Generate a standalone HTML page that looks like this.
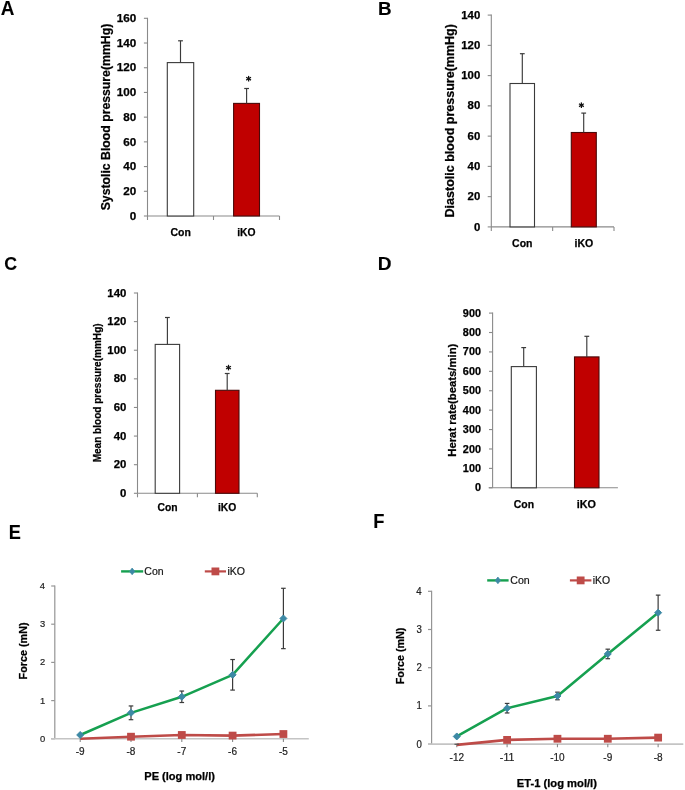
<!DOCTYPE html>
<html><head><meta charset="utf-8"><style>
html,body{margin:0;padding:0;background:#fff;}
body{width:685px;height:790px;overflow:hidden;}
svg{display:block;will-change:transform;filter:blur(0.3px);font-family:"Liberation Sans",sans-serif;}
text{stroke-linejoin:round;}
text[font-weight=bold]{stroke:#000;stroke-width:0.25px;}
text[font-weight=normal]{stroke:#222;stroke-width:0.2px;}
text.L{stroke-width:0.1px;}
</style></head><body>
<svg width="685" height="790" viewBox="0 0 685 790">
<rect width="685" height="790" fill="#fff"/>
<text x="0.83" y="14.6" font-size="19.69" font-weight="bold" textLength="13.67" lengthAdjust="spacingAndGlyphs" fill="#000" class="L">A</text>
<text x="377.94" y="14.7" font-size="19.19" font-weight="bold" textLength="13.62" lengthAdjust="spacingAndGlyphs" fill="#000" class="L">B</text>
<text x="4.27" y="270.1" font-size="19.15" font-weight="bold" textLength="12.81" lengthAdjust="spacingAndGlyphs" fill="#000" class="L">C</text>
<text x="377.72" y="269.9" font-size="19.11" font-weight="bold" textLength="13.78" lengthAdjust="spacingAndGlyphs" fill="#000" class="L">D</text>
<text x="8.68" y="538.8" font-size="20.06" font-weight="bold" textLength="12.13" lengthAdjust="spacingAndGlyphs" fill="#000" class="L">E</text>
<text x="373.27" y="527.7" font-size="19.84" font-weight="bold" textLength="11.2" lengthAdjust="spacingAndGlyphs" fill="#000" class="L">F</text>
<line x1="147.5" y1="17.8" x2="147.5" y2="216" stroke="#8a8a8a" stroke-width="1.1"/>
<line x1="143.9" y1="216" x2="147.5" y2="216" stroke="#8a8a8a" stroke-width="1.1"/>
<text x="129.87" y="219.69" font-size="10.73" font-weight="bold" textLength="6.51" lengthAdjust="spacingAndGlyphs" fill="#000">0</text>
<line x1="143.9" y1="191.29" x2="147.5" y2="191.29" stroke="#8a8a8a" stroke-width="1.1"/>
<text x="123.37" y="194.98" font-size="10.73" font-weight="bold" textLength="13.01" lengthAdjust="spacingAndGlyphs" fill="#000">20</text>
<line x1="143.9" y1="166.57" x2="147.5" y2="166.57" stroke="#8a8a8a" stroke-width="1.1"/>
<text x="123.37" y="170.27" font-size="10.73" font-weight="bold" textLength="13.01" lengthAdjust="spacingAndGlyphs" fill="#000">40</text>
<line x1="143.9" y1="141.86" x2="147.5" y2="141.86" stroke="#8a8a8a" stroke-width="1.1"/>
<text x="123.37" y="145.56" font-size="10.73" font-weight="bold" textLength="13.01" lengthAdjust="spacingAndGlyphs" fill="#000">60</text>
<line x1="143.9" y1="117.15" x2="147.5" y2="117.15" stroke="#8a8a8a" stroke-width="1.1"/>
<text x="123.37" y="120.84" font-size="10.73" font-weight="bold" textLength="13.01" lengthAdjust="spacingAndGlyphs" fill="#000">80</text>
<line x1="143.9" y1="92.44" x2="147.5" y2="92.44" stroke="#8a8a8a" stroke-width="1.1"/>
<text x="116.86" y="96.13" font-size="10.73" font-weight="bold" textLength="19.52" lengthAdjust="spacingAndGlyphs" fill="#000">100</text>
<line x1="143.9" y1="67.73" x2="147.5" y2="67.73" stroke="#8a8a8a" stroke-width="1.1"/>
<text x="116.86" y="71.42" font-size="10.73" font-weight="bold" textLength="19.52" lengthAdjust="spacingAndGlyphs" fill="#000">120</text>
<line x1="143.9" y1="43.01" x2="147.5" y2="43.01" stroke="#8a8a8a" stroke-width="1.1"/>
<text x="116.86" y="46.71" font-size="10.73" font-weight="bold" textLength="19.52" lengthAdjust="spacingAndGlyphs" fill="#000">140</text>
<line x1="143.9" y1="18.3" x2="147.5" y2="18.3" stroke="#8a8a8a" stroke-width="1.1"/>
<text x="116.86" y="21.99" font-size="10.73" font-weight="bold" textLength="19.52" lengthAdjust="spacingAndGlyphs" fill="#000">160</text>
<line x1="147.5" y1="216" x2="279.5" y2="216" stroke="#8a8a8a" stroke-width="1.1"/>
<line x1="147.5" y1="216" x2="147.5" y2="220" stroke="#8a8a8a" stroke-width="1.1"/>
<line x1="213.5" y1="216" x2="213.5" y2="220" stroke="#8a8a8a" stroke-width="1.1"/>
<line x1="279.5" y1="216" x2="279.5" y2="220" stroke="#8a8a8a" stroke-width="1.1"/>
<rect x="167.3" y="62.6" width="26.4" height="153.4" fill="#fff" stroke="#3a3a3a" stroke-width="1.1"/>
<line x1="180.5" y1="62.6" x2="180.5" y2="40.8" stroke="#3a3a3a" stroke-width="1.15"/>
<line x1="178.1" y1="40.8" x2="182.9" y2="40.8" stroke="#3a3a3a" stroke-width="1.2"/>
<rect x="233.6" y="103.4" width="25.9" height="112.6" fill="#c00000" stroke="#4a0a0a" stroke-width="1.1"/>
<line x1="246.6" y1="103.4" x2="246.6" y2="88.5" stroke="#3a3a3a" stroke-width="1.15"/>
<line x1="244.2" y1="88.5" x2="249" y2="88.5" stroke="#3a3a3a" stroke-width="1.2"/>
<line x1="248.6" y1="75.9" x2="248.6" y2="81.5" stroke="#111" stroke-width="1.25"/>
<line x1="246.18" y1="77.3" x2="251.02" y2="80.1" stroke="#111" stroke-width="1.25"/>
<line x1="246.18" y1="80.1" x2="251.02" y2="77.3" stroke="#111" stroke-width="1.25"/>
<text x="170.47" y="236.4" font-size="10.86" font-weight="bold" textLength="20.38" lengthAdjust="spacingAndGlyphs" fill="#000">Con</text>
<text x="237.18" y="236.4" font-size="10.86" font-weight="bold" textLength="18.35" lengthAdjust="spacingAndGlyphs" fill="#000">iKO</text>
<text transform="translate(110,0) rotate(-90)" x="-210.35" y="0" font-size="12.57" font-weight="bold" textLength="186.56" lengthAdjust="spacingAndGlyphs" fill="#000">Systolic Blood pressure(mmHg)</text>
<line x1="491.3" y1="14.6" x2="491.3" y2="226.9" stroke="#8a8a8a" stroke-width="1.1"/>
<line x1="487.7" y1="226.9" x2="491.3" y2="226.9" stroke="#8a8a8a" stroke-width="1.1"/>
<text x="473.93" y="230.5" font-size="10.45" font-weight="bold" textLength="6.34" lengthAdjust="spacingAndGlyphs" fill="#000">0</text>
<line x1="487.7" y1="196.64" x2="491.3" y2="196.64" stroke="#8a8a8a" stroke-width="1.1"/>
<text x="467.6" y="200.24" font-size="10.45" font-weight="bold" textLength="12.67" lengthAdjust="spacingAndGlyphs" fill="#000">20</text>
<line x1="487.7" y1="166.39" x2="491.3" y2="166.39" stroke="#8a8a8a" stroke-width="1.1"/>
<text x="467.6" y="169.98" font-size="10.45" font-weight="bold" textLength="12.67" lengthAdjust="spacingAndGlyphs" fill="#000">40</text>
<line x1="487.7" y1="136.13" x2="491.3" y2="136.13" stroke="#8a8a8a" stroke-width="1.1"/>
<text x="467.6" y="139.72" font-size="10.45" font-weight="bold" textLength="12.67" lengthAdjust="spacingAndGlyphs" fill="#000">60</text>
<line x1="487.7" y1="105.87" x2="491.3" y2="105.87" stroke="#8a8a8a" stroke-width="1.1"/>
<text x="467.6" y="109.47" font-size="10.45" font-weight="bold" textLength="12.67" lengthAdjust="spacingAndGlyphs" fill="#000">80</text>
<line x1="487.7" y1="75.61" x2="491.3" y2="75.61" stroke="#8a8a8a" stroke-width="1.1"/>
<text x="461.26" y="79.21" font-size="10.45" font-weight="bold" textLength="19.01" lengthAdjust="spacingAndGlyphs" fill="#000">100</text>
<line x1="487.7" y1="45.36" x2="491.3" y2="45.36" stroke="#8a8a8a" stroke-width="1.1"/>
<text x="461.26" y="48.95" font-size="10.45" font-weight="bold" textLength="19.01" lengthAdjust="spacingAndGlyphs" fill="#000">120</text>
<line x1="487.7" y1="15.1" x2="491.3" y2="15.1" stroke="#8a8a8a" stroke-width="1.1"/>
<text x="461.26" y="18.7" font-size="10.45" font-weight="bold" textLength="19.01" lengthAdjust="spacingAndGlyphs" fill="#000">140</text>
<line x1="491.3" y1="226.9" x2="614" y2="226.9" stroke="#8a8a8a" stroke-width="1.1"/>
<line x1="491.3" y1="226.9" x2="491.3" y2="230.9" stroke="#8a8a8a" stroke-width="1.1"/>
<line x1="552.65" y1="226.9" x2="552.65" y2="230.9" stroke="#8a8a8a" stroke-width="1.1"/>
<line x1="614" y1="226.9" x2="614" y2="230.9" stroke="#8a8a8a" stroke-width="1.1"/>
<rect x="510" y="83.5" width="24.5" height="143.4" fill="#fff" stroke="#3a3a3a" stroke-width="1.1"/>
<line x1="522.3" y1="83.5" x2="522.3" y2="53.7" stroke="#3a3a3a" stroke-width="1.15"/>
<line x1="519.9" y1="53.7" x2="524.7" y2="53.7" stroke="#3a3a3a" stroke-width="1.2"/>
<rect x="571.3" y="132.5" width="25" height="94.4" fill="#c00000" stroke="#4a0a0a" stroke-width="1.1"/>
<line x1="583.7" y1="132.5" x2="583.7" y2="113.1" stroke="#3a3a3a" stroke-width="1.15"/>
<line x1="581.3" y1="113.1" x2="586.1" y2="113.1" stroke="#3a3a3a" stroke-width="1.2"/>
<line x1="581.4" y1="102.4" x2="581.4" y2="108" stroke="#111" stroke-width="1.25"/>
<line x1="578.98" y1="103.8" x2="583.82" y2="106.6" stroke="#111" stroke-width="1.25"/>
<line x1="578.98" y1="106.6" x2="583.82" y2="103.8" stroke="#111" stroke-width="1.25"/>
<text x="512.07" y="246.7" font-size="10.86" font-weight="bold" textLength="20.38" lengthAdjust="spacingAndGlyphs" fill="#000">Con</text>
<text x="574.46" y="246.7" font-size="10.86" font-weight="bold" textLength="18.78" lengthAdjust="spacingAndGlyphs" fill="#000">iKO</text>
<text transform="translate(454.3,0) rotate(-90)" x="-217.44" y="0" font-size="13.29" font-weight="bold" textLength="193.36" lengthAdjust="spacingAndGlyphs" fill="#000">Diastolic blood pressure(mmHg)</text>
<line x1="137.5" y1="292.5" x2="137.5" y2="493.3" stroke="#8a8a8a" stroke-width="1.1"/>
<line x1="133.9" y1="493.3" x2="137.5" y2="493.3" stroke="#8a8a8a" stroke-width="1.1"/>
<text x="120.03" y="496.9" font-size="10.45" font-weight="bold" textLength="6.34" lengthAdjust="spacingAndGlyphs" fill="#000">0</text>
<line x1="133.9" y1="464.69" x2="137.5" y2="464.69" stroke="#8a8a8a" stroke-width="1.1"/>
<text x="113.7" y="468.28" font-size="10.45" font-weight="bold" textLength="12.67" lengthAdjust="spacingAndGlyphs" fill="#000">20</text>
<line x1="133.9" y1="436.07" x2="137.5" y2="436.07" stroke="#8a8a8a" stroke-width="1.1"/>
<text x="113.7" y="439.67" font-size="10.45" font-weight="bold" textLength="12.67" lengthAdjust="spacingAndGlyphs" fill="#000">40</text>
<line x1="133.9" y1="407.46" x2="137.5" y2="407.46" stroke="#8a8a8a" stroke-width="1.1"/>
<text x="113.7" y="411.05" font-size="10.45" font-weight="bold" textLength="12.67" lengthAdjust="spacingAndGlyphs" fill="#000">60</text>
<line x1="133.9" y1="378.84" x2="137.5" y2="378.84" stroke="#8a8a8a" stroke-width="1.1"/>
<text x="113.7" y="382.44" font-size="10.45" font-weight="bold" textLength="12.67" lengthAdjust="spacingAndGlyphs" fill="#000">80</text>
<line x1="133.9" y1="350.23" x2="137.5" y2="350.23" stroke="#8a8a8a" stroke-width="1.1"/>
<text x="107.36" y="353.82" font-size="10.45" font-weight="bold" textLength="19.01" lengthAdjust="spacingAndGlyphs" fill="#000">100</text>
<line x1="133.9" y1="321.61" x2="137.5" y2="321.61" stroke="#8a8a8a" stroke-width="1.1"/>
<text x="107.36" y="325.21" font-size="10.45" font-weight="bold" textLength="19.01" lengthAdjust="spacingAndGlyphs" fill="#000">120</text>
<line x1="133.9" y1="293" x2="137.5" y2="293" stroke="#8a8a8a" stroke-width="1.1"/>
<text x="107.36" y="296.6" font-size="10.45" font-weight="bold" textLength="19.01" lengthAdjust="spacingAndGlyphs" fill="#000">140</text>
<line x1="137.5" y1="493.3" x2="257.3" y2="493.3" stroke="#8a8a8a" stroke-width="1.1"/>
<line x1="137.5" y1="493.3" x2="137.5" y2="497.3" stroke="#8a8a8a" stroke-width="1.1"/>
<line x1="197.4" y1="493.3" x2="197.4" y2="497.3" stroke="#8a8a8a" stroke-width="1.1"/>
<line x1="257.3" y1="493.3" x2="257.3" y2="497.3" stroke="#8a8a8a" stroke-width="1.1"/>
<rect x="155.2" y="344.4" width="24.4" height="148.9" fill="#fff" stroke="#3a3a3a" stroke-width="1.1"/>
<line x1="167.4" y1="344.4" x2="167.4" y2="317.5" stroke="#3a3a3a" stroke-width="1.15"/>
<line x1="165" y1="317.5" x2="169.8" y2="317.5" stroke="#3a3a3a" stroke-width="1.2"/>
<rect x="215.5" y="390.3" width="23.5" height="103" fill="#c00000" stroke="#4a0a0a" stroke-width="1.1"/>
<line x1="227.2" y1="390.3" x2="227.2" y2="373.5" stroke="#3a3a3a" stroke-width="1.15"/>
<line x1="224.8" y1="373.5" x2="229.6" y2="373.5" stroke="#3a3a3a" stroke-width="1.2"/>
<line x1="228.5" y1="364.8" x2="228.5" y2="370.4" stroke="#111" stroke-width="1.25"/>
<line x1="226.08" y1="366.2" x2="230.92" y2="369" stroke="#111" stroke-width="1.25"/>
<line x1="226.08" y1="369" x2="230.92" y2="366.2" stroke="#111" stroke-width="1.25"/>
<text x="157.58" y="511.4" font-size="10.43" font-weight="bold" textLength="20.06" lengthAdjust="spacingAndGlyphs" fill="#000">Con</text>
<text x="217.88" y="511.4" font-size="10.43" font-weight="bold" textLength="18.35" lengthAdjust="spacingAndGlyphs" fill="#000">iKO</text>
<text transform="translate(100.9,0) rotate(-90)" x="-462.37" y="0" font-size="11" font-weight="bold" textLength="138.97" lengthAdjust="spacingAndGlyphs" fill="#000">Mean blood pressure(mmHg)</text>
<line x1="492.6" y1="312.6" x2="492.6" y2="487.8" stroke="#8a8a8a" stroke-width="1.1"/>
<line x1="489" y1="487.8" x2="492.6" y2="487.8" stroke="#8a8a8a" stroke-width="1.1"/>
<text x="474.92" y="491.35" font-size="10.31" font-weight="bold" textLength="6.02" lengthAdjust="spacingAndGlyphs" fill="#000">0</text>
<line x1="489" y1="468.39" x2="492.6" y2="468.39" stroke="#8a8a8a" stroke-width="1.1"/>
<text x="462.88" y="471.94" font-size="10.31" font-weight="bold" textLength="18.06" lengthAdjust="spacingAndGlyphs" fill="#000">100</text>
<line x1="489" y1="448.98" x2="492.6" y2="448.98" stroke="#8a8a8a" stroke-width="1.1"/>
<text x="462.88" y="452.52" font-size="10.31" font-weight="bold" textLength="18.06" lengthAdjust="spacingAndGlyphs" fill="#000">200</text>
<line x1="489" y1="429.57" x2="492.6" y2="429.57" stroke="#8a8a8a" stroke-width="1.1"/>
<text x="462.88" y="433.11" font-size="10.31" font-weight="bold" textLength="18.06" lengthAdjust="spacingAndGlyphs" fill="#000">300</text>
<line x1="489" y1="410.16" x2="492.6" y2="410.16" stroke="#8a8a8a" stroke-width="1.1"/>
<text x="462.88" y="413.7" font-size="10.31" font-weight="bold" textLength="18.06" lengthAdjust="spacingAndGlyphs" fill="#000">400</text>
<line x1="489" y1="390.74" x2="492.6" y2="390.74" stroke="#8a8a8a" stroke-width="1.1"/>
<text x="462.88" y="394.29" font-size="10.31" font-weight="bold" textLength="18.06" lengthAdjust="spacingAndGlyphs" fill="#000">500</text>
<line x1="489" y1="371.33" x2="492.6" y2="371.33" stroke="#8a8a8a" stroke-width="1.1"/>
<text x="462.88" y="374.88" font-size="10.31" font-weight="bold" textLength="18.06" lengthAdjust="spacingAndGlyphs" fill="#000">600</text>
<line x1="489" y1="351.92" x2="492.6" y2="351.92" stroke="#8a8a8a" stroke-width="1.1"/>
<text x="462.88" y="355.47" font-size="10.31" font-weight="bold" textLength="18.06" lengthAdjust="spacingAndGlyphs" fill="#000">700</text>
<line x1="489" y1="332.51" x2="492.6" y2="332.51" stroke="#8a8a8a" stroke-width="1.1"/>
<text x="462.88" y="336.06" font-size="10.31" font-weight="bold" textLength="18.06" lengthAdjust="spacingAndGlyphs" fill="#000">800</text>
<line x1="489" y1="313.1" x2="492.6" y2="313.1" stroke="#8a8a8a" stroke-width="1.1"/>
<text x="462.88" y="316.65" font-size="10.31" font-weight="bold" textLength="18.06" lengthAdjust="spacingAndGlyphs" fill="#000">900</text>
<line x1="488.6" y1="487.8" x2="617.9" y2="487.8" stroke="#8a8a8a" stroke-width="1.1"/>
<rect x="511.3" y="366.6" width="25.1" height="121.2" fill="#fff" stroke="#3a3a3a" stroke-width="1.1"/>
<line x1="523.7" y1="366.6" x2="523.7" y2="347.6" stroke="#3a3a3a" stroke-width="1.15"/>
<line x1="521.3" y1="347.6" x2="526.1" y2="347.6" stroke="#3a3a3a" stroke-width="1.2"/>
<rect x="574.5" y="356.9" width="24.5" height="130.9" fill="#c00000" stroke="#4a0a0a" stroke-width="1.1"/>
<line x1="586.8" y1="356.9" x2="586.8" y2="336.3" stroke="#3a3a3a" stroke-width="1.15"/>
<line x1="584.4" y1="336.3" x2="589.2" y2="336.3" stroke="#3a3a3a" stroke-width="1.2"/>
<text x="513.77" y="507.8" font-size="10.86" font-weight="bold" textLength="20.27" lengthAdjust="spacingAndGlyphs" fill="#000">Con</text>
<text x="576.65" y="507.8" font-size="10.86" font-weight="bold" textLength="19.21" lengthAdjust="spacingAndGlyphs" fill="#000">iKO</text>
<text transform="translate(455.8,0) rotate(-90)" x="-456.76" y="0" font-size="10.86" font-weight="bold" textLength="113.12" lengthAdjust="spacingAndGlyphs" fill="#000">Herat rate(beats/min)</text>
<line x1="54.8" y1="585.5" x2="54.8" y2="738.8" stroke="#959595" stroke-width="1.2"/>
<line x1="51.2" y1="738.8" x2="54.8" y2="738.8" stroke="#959595" stroke-width="1.2"/>
<text x="39.94" y="741.8" font-size="9.89" font-weight="normal" textLength="5.22" lengthAdjust="spacingAndGlyphs" fill="#222">0</text>
<line x1="51.2" y1="700.6" x2="54.8" y2="700.6" stroke="#959595" stroke-width="1.2"/>
<text x="40.03" y="703.6" font-size="9.89" font-weight="normal" textLength="5.22" lengthAdjust="spacingAndGlyphs" fill="#222">1</text>
<line x1="51.2" y1="662.4" x2="54.8" y2="662.4" stroke="#959595" stroke-width="1.2"/>
<text x="40.05" y="665.4" font-size="9.89" font-weight="normal" textLength="5.22" lengthAdjust="spacingAndGlyphs" fill="#222">2</text>
<line x1="51.2" y1="624.2" x2="54.8" y2="624.2" stroke="#959595" stroke-width="1.2"/>
<text x="39.99" y="627.2" font-size="9.89" font-weight="normal" textLength="5.22" lengthAdjust="spacingAndGlyphs" fill="#222">3</text>
<line x1="51.2" y1="586" x2="54.8" y2="586" stroke="#959595" stroke-width="1.2"/>
<text x="39.85" y="589" font-size="9.89" font-weight="normal" textLength="5.22" lengthAdjust="spacingAndGlyphs" fill="#222">4</text>
<line x1="51.2" y1="738.8" x2="308.8" y2="738.8" stroke="#c4c4c4" stroke-width="1.6"/>
<line x1="80.2" y1="738.8" x2="80.2" y2="742" stroke="#8a8a8a" stroke-width="1.1"/>
<line x1="131" y1="738.8" x2="131" y2="742" stroke="#8a8a8a" stroke-width="1.1"/>
<line x1="181.8" y1="738.8" x2="181.8" y2="742" stroke="#8a8a8a" stroke-width="1.1"/>
<line x1="232.6" y1="738.8" x2="232.6" y2="742" stroke="#8a8a8a" stroke-width="1.1"/>
<line x1="283.4" y1="738.8" x2="283.4" y2="742" stroke="#8a8a8a" stroke-width="1.1"/>
<text x="75.76" y="755.4" font-size="10.03" font-weight="normal" textLength="8.92" lengthAdjust="spacingAndGlyphs" fill="#222">-9</text>
<text x="126.54" y="755.4" font-size="10.03" font-weight="normal" textLength="8.92" lengthAdjust="spacingAndGlyphs" fill="#222">-8</text>
<text x="177.37" y="755.4" font-size="10.03" font-weight="normal" textLength="8.92" lengthAdjust="spacingAndGlyphs" fill="#222">-7</text>
<text x="228.14" y="755.4" font-size="10.03" font-weight="normal" textLength="8.92" lengthAdjust="spacingAndGlyphs" fill="#222">-6</text>
<text x="278.93" y="755.4" font-size="10.03" font-weight="normal" textLength="8.92" lengthAdjust="spacingAndGlyphs" fill="#222">-5</text>
<polyline points="80.2,738.8 131,736.7 181.8,734.98 232.6,735.59 283.4,734.02" fill="none" stroke="#be4b48" stroke-width="2.6" stroke-linejoin="round"/>
<rect x="127.1" y="732.8" width="7.8" height="7.8" fill="#be4b48"/>
<rect x="177.9" y="731.08" width="7.8" height="7.8" fill="#be4b48"/>
<rect x="228.7" y="731.69" width="7.8" height="7.8" fill="#be4b48"/>
<rect x="279.5" y="730.12" width="7.8" height="7.8" fill="#be4b48"/>
<polyline points="80.2,734.98 131,712.82 181.8,696.78 232.6,674.81 283.4,618.47" fill="none" stroke="#16a050" stroke-width="2.5" stroke-linejoin="round"/>
<line x1="131" y1="705.95" x2="131" y2="719.7" stroke="#3a3a3a" stroke-width="1.2"/>
<line x1="128.7" y1="705.95" x2="133.3" y2="705.95" stroke="#3a3a3a" stroke-width="1.2"/>
<line x1="128.7" y1="719.7" x2="133.3" y2="719.7" stroke="#3a3a3a" stroke-width="1.2"/>
<line x1="181.8" y1="691.05" x2="181.8" y2="702.51" stroke="#3a3a3a" stroke-width="1.2"/>
<line x1="179.5" y1="691.05" x2="184.1" y2="691.05" stroke="#3a3a3a" stroke-width="1.2"/>
<line x1="179.5" y1="702.51" x2="184.1" y2="702.51" stroke="#3a3a3a" stroke-width="1.2"/>
<line x1="232.6" y1="659.53" x2="232.6" y2="690.09" stroke="#3a3a3a" stroke-width="1.2"/>
<line x1="230.3" y1="659.53" x2="234.9" y2="659.53" stroke="#3a3a3a" stroke-width="1.2"/>
<line x1="230.3" y1="690.09" x2="234.9" y2="690.09" stroke="#3a3a3a" stroke-width="1.2"/>
<line x1="283.4" y1="588.29" x2="283.4" y2="648.65" stroke="#3a3a3a" stroke-width="1.2"/>
<line x1="281.1" y1="588.29" x2="285.7" y2="588.29" stroke="#3a3a3a" stroke-width="1.2"/>
<line x1="281.1" y1="648.65" x2="285.7" y2="648.65" stroke="#3a3a3a" stroke-width="1.2"/>
<path d="M80.2 731.48L83.7 734.98L80.2 738.48L76.7 734.98Z" fill="#3d89a5" stroke="#3d89a5" stroke-width="1.0" stroke-linejoin="round"/>
<path d="M131 709.32L134.5 712.82L131 716.32L127.5 712.82Z" fill="#3d89a5" stroke="#3d89a5" stroke-width="1.0" stroke-linejoin="round"/>
<path d="M181.8 693.28L185.3 696.78L181.8 700.28L178.3 696.78Z" fill="#3d89a5" stroke="#3d89a5" stroke-width="1.0" stroke-linejoin="round"/>
<path d="M232.6 671.31L236.1 674.81L232.6 678.31L229.1 674.81Z" fill="#3d89a5" stroke="#3d89a5" stroke-width="1.0" stroke-linejoin="round"/>
<path d="M283.4 614.97L286.9 618.47L283.4 621.97L279.9 618.47Z" fill="#3d89a5" stroke="#3d89a5" stroke-width="1.0" stroke-linejoin="round"/>
<line x1="121.1" y1="571.4" x2="143.2" y2="571.4" stroke="#16a050" stroke-width="2.4"/>
<path d="M132.15 568.1L134.75 571.4L132.15 574.7L129.55 571.4Z" fill="#3d89a5" stroke="#3d89a5" stroke-width="0.8" stroke-linejoin="round"/>
<text x="144.37" y="574.9" font-size="10.14" font-weight="normal" textLength="19.32" lengthAdjust="spacingAndGlyphs" fill="#111">Con</text>
<line x1="204.8" y1="571.4" x2="226" y2="571.4" stroke="#be4b48" stroke-width="2.2"/>
<rect x="211.5" y="567.5" width="7.8" height="7.8" fill="#be4b48"/>
<text x="227.49" y="574.9" font-size="10.14" font-weight="normal" textLength="17.61" lengthAdjust="spacingAndGlyphs" fill="#111">iKO</text>
<text transform="translate(27.1,0) rotate(-90)" x="-679.42" y="0" font-size="10.86" font-weight="bold" textLength="56.96" lengthAdjust="spacingAndGlyphs" fill="#000">Force (mN)</text>
<text x="144.26" y="779.5" font-size="10.43" font-weight="bold" textLength="70.69" lengthAdjust="spacingAndGlyphs" fill="#000">PE (log mol/l)</text>
<line x1="431.6" y1="590.8" x2="431.6" y2="744.1" stroke="#959595" stroke-width="1.2"/>
<line x1="428" y1="744.1" x2="431.6" y2="744.1" stroke="#959595" stroke-width="1.2"/>
<text x="416.4" y="747.5" font-size="10.17" font-weight="normal" textLength="5.37" lengthAdjust="spacingAndGlyphs" fill="#222">0</text>
<line x1="428" y1="705.9" x2="431.6" y2="705.9" stroke="#959595" stroke-width="1.2"/>
<text x="416.5" y="709.3" font-size="10.17" font-weight="normal" textLength="5.37" lengthAdjust="spacingAndGlyphs" fill="#222">1</text>
<line x1="428" y1="667.7" x2="431.6" y2="667.7" stroke="#959595" stroke-width="1.2"/>
<text x="416.51" y="671.1" font-size="10.17" font-weight="normal" textLength="5.37" lengthAdjust="spacingAndGlyphs" fill="#222">2</text>
<line x1="428" y1="629.5" x2="431.6" y2="629.5" stroke="#959595" stroke-width="1.2"/>
<text x="416.45" y="632.9" font-size="10.17" font-weight="normal" textLength="5.37" lengthAdjust="spacingAndGlyphs" fill="#222">3</text>
<line x1="428" y1="591.3" x2="431.6" y2="591.3" stroke="#959595" stroke-width="1.2"/>
<text x="416.31" y="594.7" font-size="10.17" font-weight="normal" textLength="5.37" lengthAdjust="spacingAndGlyphs" fill="#222">4</text>
<line x1="428" y1="744.1" x2="683.3" y2="744.1" stroke="#c4c4c4" stroke-width="1.6"/>
<line x1="456.77" y1="744.1" x2="456.77" y2="747.3" stroke="#8a8a8a" stroke-width="1.1"/>
<line x1="507.11" y1="744.1" x2="507.11" y2="747.3" stroke="#8a8a8a" stroke-width="1.1"/>
<line x1="557.45" y1="744.1" x2="557.45" y2="747.3" stroke="#8a8a8a" stroke-width="1.1"/>
<line x1="607.79" y1="744.1" x2="607.79" y2="747.3" stroke="#8a8a8a" stroke-width="1.1"/>
<line x1="658.13" y1="744.1" x2="658.13" y2="747.3" stroke="#8a8a8a" stroke-width="1.1"/>
<text x="449.55" y="760.8" font-size="10.03" font-weight="normal" textLength="14.49" lengthAdjust="spacingAndGlyphs" fill="#222">-12</text>
<text x="499.89" y="760.8" font-size="10.03" font-weight="normal" textLength="14.49" lengthAdjust="spacingAndGlyphs" fill="#222">-11</text>
<text x="550.18" y="760.8" font-size="10.03" font-weight="normal" textLength="14.49" lengthAdjust="spacingAndGlyphs" fill="#222">-10</text>
<text x="603.35" y="760.8" font-size="10.03" font-weight="normal" textLength="8.92" lengthAdjust="spacingAndGlyphs" fill="#222">-9</text>
<text x="653.67" y="760.8" font-size="10.03" font-weight="normal" textLength="8.92" lengthAdjust="spacingAndGlyphs" fill="#222">-8</text>
<polyline points="456.77,744.86 507.11,739.9 557.45,738.75 607.79,738.75 658.13,737.61" fill="none" stroke="#be4b48" stroke-width="2.6" stroke-linejoin="round"/>
<line x1="454.47" y1="744.26" x2="459.07" y2="744.26" stroke="#555" stroke-width="1.2"/>
<rect x="503.21" y="736" width="7.8" height="7.8" fill="#be4b48"/>
<rect x="553.55" y="734.85" width="7.8" height="7.8" fill="#be4b48"/>
<rect x="603.89" y="734.85" width="7.8" height="7.8" fill="#be4b48"/>
<rect x="654.23" y="733.71" width="7.8" height="7.8" fill="#be4b48"/>
<polyline points="456.77,736.46 507.11,708.19 557.45,695.97 607.79,653.95 658.13,612.69" fill="none" stroke="#16a050" stroke-width="2.5" stroke-linejoin="round"/>
<line x1="507.11" y1="703.42" x2="507.11" y2="712.97" stroke="#3a3a3a" stroke-width="1.2"/>
<line x1="504.81" y1="703.42" x2="509.41" y2="703.42" stroke="#3a3a3a" stroke-width="1.2"/>
<line x1="504.81" y1="712.97" x2="509.41" y2="712.97" stroke="#3a3a3a" stroke-width="1.2"/>
<line x1="557.45" y1="692.15" x2="557.45" y2="699.79" stroke="#3a3a3a" stroke-width="1.2"/>
<line x1="555.15" y1="692.15" x2="559.75" y2="692.15" stroke="#3a3a3a" stroke-width="1.2"/>
<line x1="555.15" y1="699.79" x2="559.75" y2="699.79" stroke="#3a3a3a" stroke-width="1.2"/>
<line x1="607.79" y1="649.17" x2="607.79" y2="658.72" stroke="#3a3a3a" stroke-width="1.2"/>
<line x1="605.49" y1="649.17" x2="610.09" y2="649.17" stroke="#3a3a3a" stroke-width="1.2"/>
<line x1="605.49" y1="658.72" x2="610.09" y2="658.72" stroke="#3a3a3a" stroke-width="1.2"/>
<line x1="658.13" y1="595.12" x2="658.13" y2="630.26" stroke="#3a3a3a" stroke-width="1.2"/>
<line x1="655.83" y1="595.12" x2="660.43" y2="595.12" stroke="#3a3a3a" stroke-width="1.2"/>
<line x1="655.83" y1="630.26" x2="660.43" y2="630.26" stroke="#3a3a3a" stroke-width="1.2"/>
<path d="M456.77 732.96L460.27 736.46L456.77 739.96L453.27 736.46Z" fill="#3d89a5" stroke="#3d89a5" stroke-width="1.0" stroke-linejoin="round"/>
<path d="M507.11 704.69L510.61 708.19L507.11 711.69L503.61 708.19Z" fill="#3d89a5" stroke="#3d89a5" stroke-width="1.0" stroke-linejoin="round"/>
<path d="M557.45 692.47L560.95 695.97L557.45 699.47L553.95 695.97Z" fill="#3d89a5" stroke="#3d89a5" stroke-width="1.0" stroke-linejoin="round"/>
<path d="M607.79 650.45L611.29 653.95L607.79 657.45L604.29 653.95Z" fill="#3d89a5" stroke="#3d89a5" stroke-width="1.0" stroke-linejoin="round"/>
<path d="M658.13 609.19L661.63 612.69L658.13 616.19L654.63 612.69Z" fill="#3d89a5" stroke="#3d89a5" stroke-width="1.0" stroke-linejoin="round"/>
<line x1="487.2" y1="580.4" x2="508.6" y2="580.4" stroke="#16a050" stroke-width="2.4"/>
<path d="M497.9 577.1L500.5 580.4L497.9 583.7L495.3 580.4Z" fill="#3d89a5" stroke="#3d89a5" stroke-width="0.8" stroke-linejoin="round"/>
<text x="510.26" y="583.9" font-size="10.43" font-weight="normal" textLength="19.43" lengthAdjust="spacingAndGlyphs" fill="#111">Con</text>
<line x1="569.9" y1="580.4" x2="591.4" y2="580.4" stroke="#be4b48" stroke-width="2.2"/>
<rect x="576.75" y="576.5" width="7.8" height="7.8" fill="#be4b48"/>
<text x="592.7" y="583.9" font-size="10.43" font-weight="normal" textLength="17.4" lengthAdjust="spacingAndGlyphs" fill="#111">iKO</text>
<text transform="translate(403.9,0) rotate(-90)" x="-684.22" y="0" font-size="11.14" font-weight="bold" textLength="56.65" lengthAdjust="spacingAndGlyphs" fill="#000">Force (mN)</text>
<text x="516.76" y="787" font-size="10.43" font-weight="bold" textLength="80.2" lengthAdjust="spacingAndGlyphs" fill="#000">ET-1 (log mol/l)</text>
</svg>
</body></html>
